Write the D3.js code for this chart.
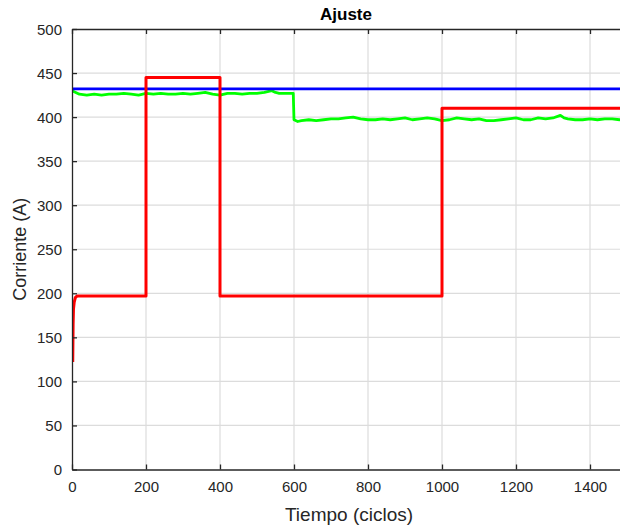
<!DOCTYPE html>
<html><head><meta charset="utf-8">
<script src="https://cdn.jsdelivr.net/npm/d3@7"></script>
<style>
html,body{margin:0;padding:0;background:#fff;}
svg{display:block;font-family:"Liberation Sans",Arial,Helvetica,sans-serif;}
</style></head>
<body><div id="chart"></div>
<script>
const title = "Ajuste";
const xLabel = "Tiempo (ciclos)";
const yLabel = "Corriente (A)";
const xTicks = [0,200,400,600,800,1000,1200,1400];
const yTicks = [0,50,100,150,200,250,300,350,400,450,500];

// Blue: reference current
const blueT = [0, 1500];
const blueV = [432, 432];

// Red: step response
const redT = [2, 3, 4, 6, 9, 14, 200, 200, 400, 400, 1000, 1000, 1500];
const redV = [122, 165, 182, 190, 195, 197, 197, 445, 445, 197, 197, 410, 410];

// Green: measured/adjusted current
const greenT = [0,10,20,40,60,80,100,120,140,160,180,200,220,240,260,280,300,320,340,360,380,400,420,440,460,480,500,520,540,550,560,580,598,
  600,610,620,640,660,680,700,720,740,760,780,800,820,840,860,880,900,920,940,960,980,1000,1020,1040,1060,1080,1100,1120,1140,1160,1180,1200,1220,1240,1260,1280,1300,1320,1330,1340,1360,1380,1400,1420,1440,1460,1480,1500];
const greenV = [430,428,426,425,426,425,426,426,427,426,425,427,426,427,426,426,427,426,427,428,426,425,427,427,426,427,427,428,430,428,427,427,427,
  397,395,396,397,396,397,398,398,399,400,398,397,397,398,397,398,399,397,398,399,398,396,397,399,398,397,398,396,396,397,398,399,397,397,399,398,399,402,399,398,397,397,398,397,398,398,397,398];

const W = 620, H = 526;
const m = {left: 72, top: 29, bottom: 469.5};
const xRight = 72 + 1500 * (518/1400);

const svg = d3.select("#chart").append("svg").attr("width", W).attr("height", H);
const x = d3.scaleLinear().domain([0,1500]).range([m.left, xRight]);
const y = d3.scaleLinear().domain([0,500]).range([m.bottom, m.top]);

const axisCol = "#262626";
const gridCol = "#dcdcdc";

// grid
const g = svg.append("g");
g.selectAll(".gx").data(xTicks.filter(d=>d>0)).enter().append("line")
  .attr("x1", d=>x(d)).attr("x2", d=>x(d)).attr("y1", m.top).attr("y2", m.bottom)
  .attr("stroke", gridCol).attr("stroke-width", 1.2);
g.selectAll(".gy").data(yTicks.filter(d=>d>0 && d<500)).enter().append("line")
  .attr("x1", m.left).attr("x2", xRight).attr("y1", d=>y(d)).attr("y2", d=>y(d))
  .attr("stroke", gridCol).attr("stroke-width", 1.2);

// lines
const line = d3.line().x(d=>x(d[0])).y(d=>y(d[1]));
const clip = svg.append("clipPath").attr("id","clip").append("rect")
  .attr("x", m.left).attr("y", m.top).attr("width", xRight-m.left).attr("height", m.bottom-m.top);
const lg = svg.append("g").attr("clip-path","url(#clip)");
lg.append("path").datum(greenT.map((t,i)=>[t,greenV[i]])).attr("d", line)
  .attr("fill","none").attr("stroke","#00ff00").attr("stroke-width",2.8).attr("stroke-linejoin","round");
lg.append("path").datum(blueT.map((t,i)=>[t,blueV[i]])).attr("d", line)
  .attr("fill","none").attr("stroke","#0000ff").attr("stroke-width",2.8);
lg.append("path").datum(redT.map((t,i)=>[t,redV[i]])).attr("d", line)
  .attr("fill","none").attr("stroke","#ff0000").attr("stroke-width",3).attr("stroke-linejoin","round");

// axes
const fmt = d3.format("d");
const xAxis = svg.append("g").attr("transform", `translate(0,${m.bottom})`)
  .call(d3.axisBottom(x).tickValues(xTicks).tickFormat(fmt).tickSizeInner(-5).tickSizeOuter(0).tickPadding(12));
const xAxisTop = svg.append("g").attr("transform", `translate(0,${m.top})`)
  .call(d3.axisTop(x).tickValues(xTicks).tickSizeInner(-5).tickSizeOuter(0).tickFormat(""));
const yAxis = svg.append("g").attr("transform", `translate(${m.left},0)`)
  .call(d3.axisLeft(y).tickValues(yTicks).tickFormat(fmt).tickSizeInner(-5).tickSizeOuter(0).tickPadding(10));
[xAxis, xAxisTop, yAxis].forEach(a=>{
  a.select(".domain").attr("stroke", axisCol).attr("stroke-width", 1.3);
  a.selectAll(".tick line").attr("stroke", axisCol).attr("stroke-width", 1.3);
  a.selectAll(".tick text").attr("fill", axisCol).style("font-size","15px")
    .style("font-family","'Liberation Sans',Arial,sans-serif");
});
yAxis.selectAll(".tick text").attr("dy","0.35em");

svg.append("text").attr("x", (m.left+620)/2).attr("y", 20).attr("text-anchor","middle")
  .style("font-size","17px").style("font-weight","bold").attr("fill","#000").text(title);
svg.append("text").attr("x", 349).attr("y", 521).attr("text-anchor","middle")
  .style("font-size","19px").attr("fill", axisCol).text(xLabel);
svg.append("text").attr("transform", `translate(26,${(m.top+m.bottom)/2}) rotate(-90)`)
  .attr("text-anchor","middle").style("font-size","18px").attr("fill", axisCol).text(yLabel);
</script></body></html>
